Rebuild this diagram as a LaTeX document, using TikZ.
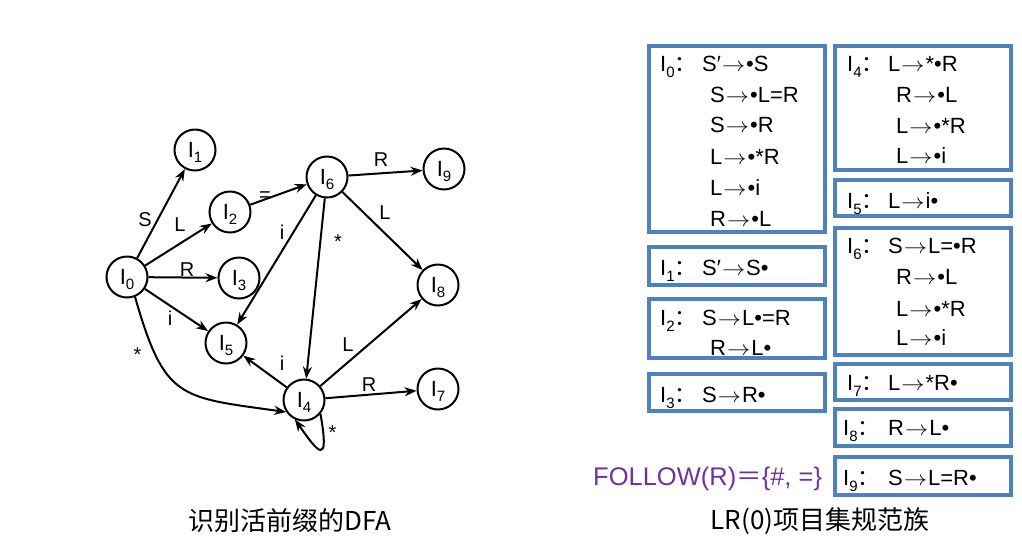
\documentclass[tikz,border=0pt]{standalone}
\usepackage{fontspec}
\usepackage{graphicx}
\setmainfont{Liberation Sans}
\newfontfamily\cjk{Noto Sans CJK SC}
\usetikzlibrary{arrows.meta}
\newcommand{\fs}[1]{\fontsize{#1}{#1}\selectfont}
\newcommand{\Sub}[1]{I\raisebox{-5pt}{\fs{15}#1}}
\newcommand{\Ra}{\kern1pt\scalebox{1.12}[1]{$\rightarrow$}\kern1pt}
\newcommand{\bul}{•}
\newcommand{\Lab}[1]{I\raisebox{-6pt}{\fs{15}#1}{\cjk ：}}
\definecolor{boxblue}{RGB}{79,129,189}
\definecolor{purp}{RGB}{112,48,160}
\begin{document}
\begin{tikzpicture}[x=1pt,y=1pt,
  st/.style={circle,draw,line width=2pt,minimum size=41pt,inner sep=0pt,font=\fs{22},text depth=0pt},
  edge/.style={line width=2pt,-{Stealth[length=12pt,width=9pt]}},
  lab/.style={font=\fs{20},inner sep=0pt},
  box/.style={draw=boxblue,line width=4.5pt},
  rule/.style={anchor=base west,inner sep=0pt,font=\fs{22}},
  captxt/.style={font=\cjk\fs{26},inner sep=0pt}]
\useasboundingbox (0,0) rectangle (1022,-550);
% DFA states
\node[st] (I0) at (127,-277) {\Sub{0}};
\node[st] (I1) at (195,-150) {\Sub{1}};
\node[st] (I2) at (230,-212) {\Sub{2}};
\node[st] (I3) at (239,-278) {\Sub{3}};
\node[st] (I4) at (304,-400) {\Sub{4}};
\node[st] (I5) at (226,-343) {\Sub{5}};
\node[st] (I6) at (327,-177) {\Sub{6}};
\node[st] (I7) at (438,-389) {\Sub{7}};
\node[st] (I8) at (438,-285) {\Sub{8}};
\node[st] (I9) at (444,-169) {\Sub{9}};
% transitions
\draw[edge] (I0) -- node[lab,midway,xshift=-16pt,yshift=-6.5pt] (lS) {S} (I1);
\draw[edge] (I0) -- node[lab,midway,xshift=1.5pt,yshift=19.5pt] (lL1) {L} (I2);
\draw[edge] (I0) -- node[lab,midway,xshift=4pt,yshift=7.5pt] (lR1) {R} (I3);
\draw[edge] (I0) -- node[lab,midway,xshift=-6.5pt,yshift=-8pt] (li1) {i} (I5);
\draw[edge] (I0.-68) to[out=-74,in=172,looseness=1.45] node[lab,pos=0.3,xshift=-23pt,yshift=10pt] (ls1) {*} (I4.214);
\draw[edge] (I2) -- node[lab,midway,xshift=-13.5pt,yshift=-2pt] (leq) {=} (I6);
\draw[edge] (I6) -- node[lab,midway,xshift=-4.5pt,yshift=13pt] (lR2) {R} (I9);
\draw[edge] (I6) -- node[lab,midway,xshift=2.5pt,yshift=18pt] (lL2) {L} (I8);
\draw[edge] (I6) -- node[lab,midway,xshift=5.5pt,yshift=28pt] (li2) {i} (I5);
\draw[edge] (I6) -- node[lab,midway,xshift=22.5pt,yshift=46.5pt] (ls2) {*} (I4);
\draw[edge] (I4) -- node[lab,midway,xshift=17pt,yshift=8.5pt] (li3) {i} (I5);
\draw[edge] (I4) -- node[lab,midway,xshift=-23pt,yshift=-2.5pt] (lL3) {L} (I8);
\draw[edge] (I4) -- node[lab,midway,xshift=-2pt,yshift=9.5pt] (lR3) {R} (I7);
\draw[edge] (I4.-40) .. controls +(-80:55) and +(-55:40) .. node[lab,pos=0.25,xshift=8.7pt,yshift=9.6pt] (ls3) {*} (I4.-115);
% item set boxes
\draw[box] (649,-46) rectangle (825,-232);
\draw[box] (649,-247) rectangle (825,-285);
\draw[box] (649,-299) rectangle (825,-358);
\draw[box] (649,-374) rectangle (825,-411);
\draw[box] (835,-46) rectangle (1011,-170);
\draw[box] (835,-180) rectangle (1011,-216);
\draw[box] (835,-228) rectangle (1011,-355);
\draw[box] (835,-364) rectangle (1011,-400);
\draw[box] (835,-409) rectangle (1011,-446);
\draw[box] (835,-457) rectangle (1011,-495);
% I0
\node[rule] (k0) at (660,-71) {\Lab{0}};
\node[rule] (k0a) at (702,-71) {S′\Ra\bul S};
\node[rule] (k0b) at (710,-102) {S\Ra\bul L=R};
\node[rule] (k0c) at (710,-132) {S\Ra\bul R};
\node[rule] (k0d) at (710,-164) {L\Ra\bul *R};
\node[rule] (k0e) at (710,-195) {L\Ra\bul i};
\node[rule] (k0f) at (710,-226) {R\Ra\bul L};
% I1
\node[rule] (k1) at (660,-275) {\Lab{1}};
\node[rule] (k1a) at (702,-275) {S′\Ra S\bul};
% I2
\node[rule] (k2) at (660,-325) {\Lab{2}};
\node[rule] (k2a) at (702,-325) {S\Ra L\bul =R};
\node[rule] (k2b) at (710,-355) {R\Ra L\bul};
% I3
\node[rule] (k3) at (660,-402) {\Lab{3}};
\node[rule] (k3a) at (702,-402) {S\Ra R\bul};
% I4
\node[rule] (k4) at (847,-71) {\Lab{4}};
\node[rule] (k4a) at (888,-71) {L\Ra *\bul R};
\node[rule] (k4b) at (896,-102) {R\Ra\bul L};
\node[rule] (k4c) at (896,-133) {L\Ra\bul *R};
\node[rule] (k4d) at (896,-163) {L\Ra\bul i};
% I5
\node[rule] (k5) at (847,-208) {\Lab{5}};
\node[rule] (k5a) at (888,-208) {L\Ra i\bul};
% I6
\node[rule] (k6) at (847,-253) {\Lab{6}};
\node[rule] (k6a) at (888,-253) {S\Ra L=\bul R};
\node[rule] (k6b) at (896,-284) {R\Ra\bul L};
\node[rule] (k6c) at (896,-316) {L\Ra\bul *R};
\node[rule] (k6d) at (896,-345) {L\Ra\bul i};
% I7
\node[rule] (k7) at (847,-390) {\Lab{7}};
\node[rule] (k7a) at (888,-390) {L\Ra *R\bul};
% I8
\node[rule] (k8) at (843,-435) {\Lab{8}};
\node[rule] (k8a) at (888,-435) {R\Ra L\bul};
% I9
\node[rule] (k9) at (843,-485) {\Lab{9}};
\node[rule] (k9a) at (888,-485) {S\Ra L=R\bul};
% FOLLOW and captions
\node[anchor=base west,inner sep=0pt,text=purp,font=\fs{25.5}] (fol) at (593,-485) {FOLLOW(R){\cjk ＝}\{\#, =\}};
\node[captxt] (c1) at (290,-521) {识别活前缀的DFA};
\node[captxt] (c2) at (820,-521) {LR(0)项目集规范族};
\end{tikzpicture}
\end{document}
